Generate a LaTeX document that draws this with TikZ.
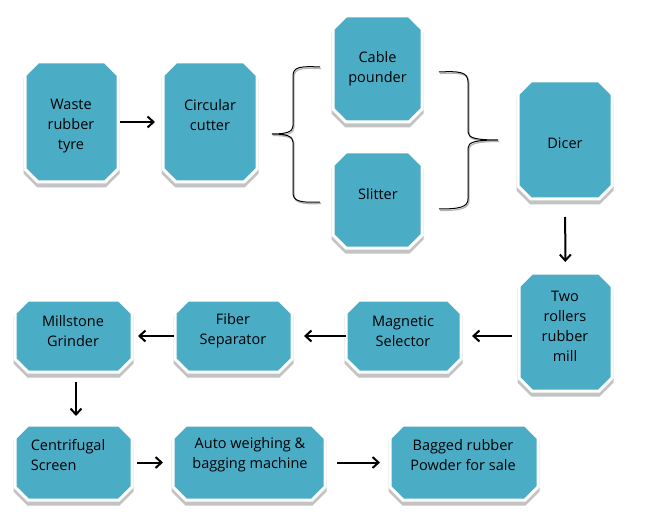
\documentclass[tikz,border=0pt]{standalone}
\usepackage{fontspec}
\setmainfont{Open Sans}
\usetikzlibrary{arrows.meta}
\definecolor{boxblue}{RGB}{75,172,198}
\definecolor{shadowgray}{RGB}{195,195,195}
\tikzset{
  boxarea/.style={rectangle, inner sep=0pt, outer sep=0pt},
  boxtext/.style={align=center, inner sep=0pt, font=\fontsize{14.5}{20}\selectfont, text=black},
  arr/.style={draw, line width=2pt, -{Straight Barb[length=6pt,width=11pt]}},
  bracel/.style={draw=black, line width=1pt},
  braceshadow/.style={draw=gray!60, line width=1.2pt},
}
\newcommand\octpath[4]{({#1+13},#2) -- ({#3-13},#2) -- (#3,{#2+13}) -- (#3,{#4-13}) -- ({#3-13},#4) -- ({#1+13},#4) -- (#1,{#4-13}) -- (#1,{#2+13}) -- cycle}
\newcommand\octbox[9][]{%
  \path[fill=shadowgray, draw=shadowgray, line width=3pt, shift={(0,4)}] \octpath{#3}{#4}{#5}{#6};
  \path[fill=boxblue, draw=white, line width=3pt] \octpath{#3}{#4}{#5}{#6};
  \node[boxarea, minimum width={(#5-#3)*1pt}, minimum height={(#6-#4)*1pt}] (#2) at ({(#3+#5)/2},{(#4+#6)/2}) {};
  \node[boxtext,#1] (#2-t) at (#7,#8) {#9};
}
\begin{document}
\begin{tikzpicture}[x=1pt,y=-1pt]
\useasboundingbox (0,0) rectangle (651,524);
\fill[white] (0,0) rectangle (651,524);

% boxes
\octbox{waste}{25}{62}{118}{182}{71}{126}{Waste\\rubber\\tyre}
\octbox{cutter}{163}{62}{257}{182}{210}{115}{Circular\\cutter}
\octbox{cable}{333}{16}{422}{122}{377.5}{68.5}{Cable\\pounder}
\octbox{slitter}{333}{152}{422}{248}{378}{194}{Slitter}
\octbox{dicer}{518}{81}{612}{199}{565}{143}{Dicer}
\octbox{rollers}{519}{273}{612}{391}{565}{326}{Two\\rollers\\rubber\\mill}
\octbox{magnetic}{346}{300}{461}{372}{403}{331}{Magnetic\\Selector}
\octbox{fiber}{175}{300}{292}{372}{233}{331}{Fiber\\Separator}
\octbox{millstone}{15}{300}{132}{372}{73}{331}{Millstone\\Grinder}
\octbox[align=left]{centrifugal}{15}{425}{132}{500}{68}{455}{Centrifugal\\Screen}
\octbox{auto}{173}{425}{325}{500}{250}{455}{Auto weighing \&\\bagging machine}
\octbox{bagged}{390}{425}{538}{500}{463}{455}{Bagged rubber\\Powder for sale}

% braces
\begin{scope}[shift={(1,1.5)}]
\draw[braceshadow] (320,67) .. controls (300,66) and (293,67) .. (293,76) -- (293,126)
  .. controls (293,132) and (286,134) .. (272,134)
  .. controls (286,134) and (293,136) .. (293,142) -- (293,193)
  .. controls (293,201) and (300,203) .. (320,202);
\draw[braceshadow] (439,72) .. controls (460,71) and (468,72) .. (468,82) -- (468,132)
  .. controls (468,138) and (476,140) .. (498,140)
  .. controls (476,140) and (468,142) .. (468,148) -- (468,199)
  .. controls (468,207) and (460,209) .. (439,209);
\end{scope}
\draw[bracel] (320,67) .. controls (300,66) and (293,67) .. (293,76) -- (293,126)
  .. controls (293,132) and (286,134) .. (272,134)
  .. controls (286,134) and (293,136) .. (293,142) -- (293,193)
  .. controls (293,201) and (300,203) .. (320,202);
\draw[bracel] (439,72) .. controls (460,71) and (468,72) .. (468,82) -- (468,132)
  .. controls (468,138) and (476,140) .. (498,140)
  .. controls (476,140) and (468,142) .. (468,148) -- (468,199)
  .. controls (468,207) and (460,209) .. (439,209);

% connectors
\draw[arr, shorten <=2pt, shorten >=8pt] (waste) -- (cutter);
\draw[arr, shorten <=18pt, shorten >=11pt] (dicer) -- (rollers);
\draw[arr, shorten <=7pt, shorten >=11pt] (rollers.west |- magnetic.east) -- (magnetic.east);
\draw[arr, shorten <=0pt, shorten >=12pt] (magnetic.west) -- (fiber.east);
\draw[arr, shorten <=1pt, shorten >=6pt] (fiber.west) -- (millstone.east);
\draw[arr, shorten <=10pt, shorten >=9pt] ([xshift=2.5pt]millstone.south) -- ([xshift=2.5pt]centrifugal.north);
\draw[arr, shorten <=5pt, shorten >=10pt] (centrifugal) -- (auto);
\draw[arr, shorten <=12pt, shorten >=10pt] (auto) -- (bagged);
\end{tikzpicture}
\end{document}
